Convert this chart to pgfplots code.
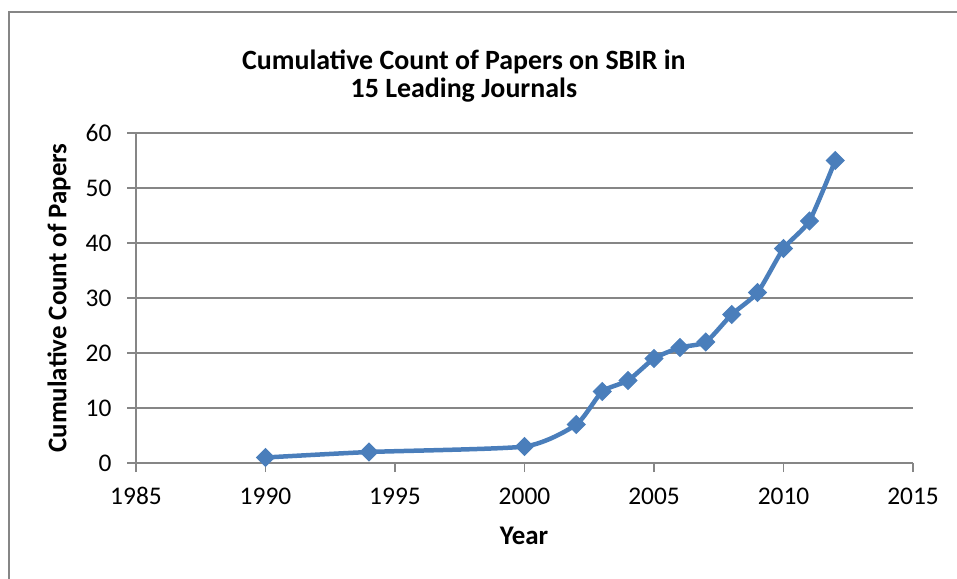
\documentclass[border=0pt]{standalone}
\usepackage{pgfplots}
\pgfplotsset{compat=1.18}
\usepackage{fontspec}
\setmainfont{Carlito}
\definecolor{serblue}{HTML}{4A7EBB}
\definecolor{axgray}{HTML}{868686}
\begin{document}
\begin{tikzpicture}[x=1bp,y=1bp]
\useasboundingbox (-136bp,-116bp) rectangle (821bp,463bp);
\draw[axgray, line width=1.5bp] (-127bp,-130bp) -- (-127bp,451bp) -- (840bp,451bp);
\begin{axis}[
  scale only axis,
  width=777bp, height=330bp,
  xmin=1985, xmax=2015, ymin=0, ymax=60,
  xtick={1985,1990,...,2015}, ytick={0,10,...,60},
  axis x line*=bottom, axis y line*=left,
  axis line style={axgray, line width=1.5bp, -},
  tick style={axgray, line width=1.5bp},
  tick align=outside, major tick length=9bp,
  ymajorgrids, grid style={axgray, line width=1.5bp},
  /pgf/number format/1000 sep={},
  /pgf/number format/assume math mode=true,
  tick label style={font=\fontsize{25.5}{30}\selectfont, text=black},
  yticklabel style={xshift=-12bp},
  xticklabel style={yshift=-12bp},
  title={Cumulative Count of Papers on SBIR in\\15 Leading Journals},
  title style={font=\fontsize{28}{28}\selectfont\bfseries, align=center, at={(axis description cs:0.422,1.076)}, anchor=south, inner sep=0pt},
  xlabel={Year},
  xlabel style={font=\fontsize{27}{30}\selectfont\bfseries, at={(axis description cs:0.4994,-0.248)}, anchor=base, inner sep=0pt},
  ylabel={Cumulative Count of Papers},
  ylabel style={font=\fontsize{27}{30}\selectfont\bfseries, at={(axis description cs:-0.099,0.5)}, anchor=center, rotate=0, inner sep=0pt},
  clip=false,
]
\addplot[serblue, line width=4.5bp, smooth, tension=0.35, mark=square*, mark size=6.3bp, mark options={fill=serblue, line width=1bp, rotate=45}]
coordinates {
(1990,1) (1994,2) (2000,3) (2002,7) (2003,13) (2004,15) (2005,19) (2006,21) (2007,22) (2008,27) (2009,31) (2010,39) (2011,44) (2012,55)
};
\end{axis}
\end{tikzpicture}
\end{document}
